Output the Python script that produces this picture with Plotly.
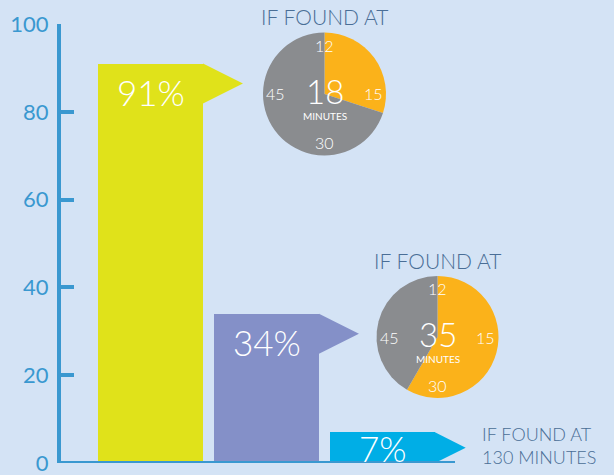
import plotly.graph_objects as go

# ---- data ----
categories = ["18 minutes", "35 minutes", "130 minutes"]
survival_pct = [91, 34, 7]
bar_colors = ["#e0e21a", "#8490c8", "#00aee6"]
found_minutes = [18, 35]          # minutes shown on the clock pies
clock_total = 60
clock_labels = ["12", "15", "30", "45"]
tick_vals = [0, 20, 40, 60, 80, 100]

BG = "#d4e3f5"
AXIS = "#3a98d0"
TITLE = "#4a6e96"
ORANGE = "#fbb21a"
GREY = "#8a8c8f"
FONT = "Lato"

W, H = 614, 475
L, R, T, B = 61, 0, 24, 12
pw, ph = W - L - R, H - T - B
x_range = [-0.7716, 3.9957]
x_unit_px = pw / (x_range[1] - x_range[0])
y_unit_px = ph / 100.0
bar_w = 0.905

fig = go.Figure()
idx = list(range(len(categories)))
fig.add_trace(go.Bar(x=idx, y=survival_pct, width=bar_w,
                     marker=dict(color=bar_colors, line=dict(width=0)),
                     hoverinfo="skip", showlegend=False))

shapes = []
annotations = []
for i, v in enumerate(survival_pct):
    h = min(9.1, v)
    tip_dx = h * y_unit_px / x_unit_px
    xr = i + bar_w / 2
    shapes.append(dict(type="path", xref="x", yref="y",
                       path=f"M {xr},{v} L {xr + tip_dx},{v - h/2} L {xr},{v - h} Z",
                       fillcolor=bar_colors[i], line=dict(width=0), layer="above"))
    annotations.append(dict(x=i, y=v - min(6.5, v / 2), xref="x", yref="y",
                            text=f"{v}%", showarrow=False,
                            font=dict(family=FONT, size=35, color="white", weight=300),
                            xanchor="center", yanchor="middle"))

# x baseline
shapes.append(dict(type="line", xref="x", yref="y", x0=x_range[0], x1=2.625, y0=0, y1=0,
                   line=dict(color=AXIS, width=4), layer="above"))

# clock pies (centers/radii in pixels)
pie_geo = [(324.5, 94, 61.5), (437.5, 337, 61)]
for (cx, cy, r), m in zip(pie_geo, found_minutes):
    dom_x = [(cx - r - L) / pw, (cx + r - L) / pw]
    dom_y = [(T + ph - (cy + r)) / ph, (T + ph - (cy - r)) / ph]
    fig.add_trace(go.Pie(values=[m, clock_total - m], marker=dict(colors=[ORANGE, GREY], line=dict(width=0)),
                         sort=False, direction="clockwise", rotation=0, textinfo="none",
                         hoverinfo="skip", showlegend=False,
                         domain=dict(x=dom_x, y=dom_y)))
    px_c = (cx - L) / pw
    py_c = (T + ph - cy) / ph
    rr = 0.79 * r
    offs = [(0, rr), (rr, 0), (0, -rr), (-rr, 0)]
    for lab, (dx, dy) in zip(clock_labels, offs):
        annotations.append(dict(x=px_c + dx / pw, y=py_c + dy / ph, xref="paper", yref="paper",
                                text=lab, showarrow=False,
                                font=dict(family=FONT, size=16, color="white", weight=300),
                                xanchor="center", yanchor="middle"))
    annotations.append(dict(x=px_c, y=py_c + 3 / ph, xref="paper", yref="paper", text=str(m),
                            showarrow=False, font=dict(family=FONT, size=33, color="white", weight=300),
                            xanchor="center", yanchor="middle"))
    annotations.append(dict(x=px_c, y=py_c - 22 / ph, xref="paper", yref="paper", text="MINUTES",
                            showarrow=False, font=dict(family=FONT, size=10, color="white"),
                            xanchor="center", yanchor="middle"))
    annotations.append(dict(x=px_c, y=py_c + 77 / ph, xref="paper", yref="paper", text="IF FOUND AT",
                            showarrow=False, font=dict(family=FONT, size=21, color=TITLE, weight=300),
                            xanchor="center", yanchor="middle"))

annotations.append(dict(x=2.84, y=3.9, xref="x", yref="y", text="IF FOUND AT<br>130 MINUTES",
                        showarrow=False, align="left", xanchor="left", yanchor="middle",
                        font=dict(family=FONT, size=18, color=TITLE, weight=300)))

fig.update_layout(
    width=W, height=H, margin=dict(l=L, r=R, t=T, b=B, autoexpand=False),
    paper_bgcolor=BG, plot_bgcolor=BG,
    xaxis=dict(range=x_range, visible=False, fixedrange=True, automargin=False),
    yaxis=dict(range=[0, 100], tickvals=tick_vals, ticks="inside", ticklen=13, tickwidth=4,
               tickcolor=AXIS, showline=True, linewidth=4, linecolor=AXIS, showgrid=False,
               zeroline=False, automargin=False, fixedrange=True, ticklabeloverflow="allow",
               tickfont=dict(family=FONT, size=22, color=AXIS), ticklabelstandoff=4),
    shapes=shapes, annotations=annotations, bargap=0,
)
fig.write_html("out.html", config={"displayModeBar": False, "staticPlot": True},
               post_script="document.body.style.margin='0';")
